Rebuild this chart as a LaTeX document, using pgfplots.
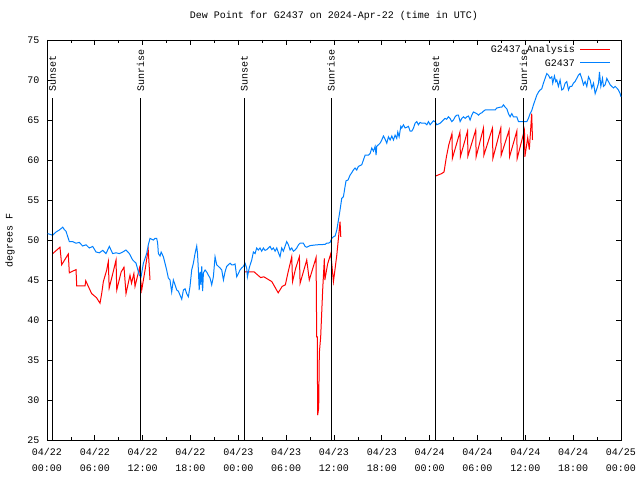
\documentclass[border=0pt]{standalone}
\usepackage{pgfplots}
\pgfplotsset{compat=1.18}
\usepackage{fontspec}
\setmainfont{Liberation Mono}
\definecolor{obsblue}{RGB}{0,128,255}
\begin{document}
\begin{tikzpicture}
\useasboundingbox (-47bp,-40bp) rectangle (593bp,440bp);
\begin{axis}[
  at={(0,0)}, anchor=south west, scale only axis,
  width=574bp, height=400bp,
  xmin=0, xmax=72, ymin=25, ymax=75,
  font=\fontsize{10bp}{16bp}\selectfont,
  /pgf/number format/assume math mode=true,
  axis line style={black, line width=0.8bp},
  tick align=inside,
  major tick length=5bp, minor tick length=3bp,
  tick style={black, line width=0.8bp},
  xtick={0,6,...,72},
  minor xtick={3,9,...,69},
  xticklabels={{04/22\\00:00},{04/22\\06:00},{04/22\\12:00},{04/22\\18:00},{04/23\\00:00},{04/23\\06:00},{04/23\\12:00},{04/23\\18:00},{04/24\\00:00},{04/24\\06:00},{04/24\\12:00},{04/24\\18:00},{04/25\\00:00}},
  xticklabel style={align=center, yshift=-5bp},
  ytick={25,30,...,75},
  yticklabel style={xshift=-4bp},
  ylabel={degrees F},
  ylabel style={at={(axis description cs:-0.0645,0.5)}, anchor=center},
  title={Dew Point for G2437 on 2024-Apr-22 (time in UTC)},
  title style={at={(axis description cs:0.5,1)}, anchor=base, yshift=16bp},
  unbounded coords=jump,
  clip=false,
]
% Analysis (red)
\addplot[color=red, line width=1bp] coordinates {
(0.72,48.3) (1.63,49.1) (1.84,46.9) (2.67,48.25) (2.8,45.9) (3.64,46.3) (3.73,44.25) (4.77,44.25) (4.86,44.9) (5.6,43.3) (6.2,42.8) (6.65,42.1) (6.86,43.3) (7.07,44.8) (7.49,46.25) (7.69,47.3) (7.8,44.0) (8.3,46.0) (8.66,47.5) (8.75,43.75) (9.3,46.0) (9.66,46.6) (9.91,43.3) (10.41,45.6) (10.6,44.6) (10.9,45.8) (11.04,44.2) (11.6,46.5) (11.88,43.75) (12.3,46.25) (12.55,47.9) (12.7,48.75) (12.92,45.0)
(13.0,nan)
(24.8,46.0) (26.0,46.0) (26.8,45.3) (27.2,45.4) (28.2,44.8) (29.0,43.4) (29.5,44.2) (29.9,44.4) (30.2,45.8) (30.7,47.9) (30.8,44.8) (31.2,46.5) (31.66,47.9) (31.75,44.6) (32.58,47.5) (32.9,45.0) (33.75,47.8) (33.83,37.9) (33.9,37.9) (33.95,28.1) (34.08,29.0) (34.16,35.9) (34.33,37.9) (34.58,43.75) (34.79,47.7) (34.85,45.0) (35.2,47.0) (35.6,48.3) (35.93,44.8) (36.35,48.1) (36.76,52.3) (36.85,50.4)
(37.0,nan)
(48.75,58.0) (49.5,58.3) (49.8,58.5) (50.1,60.4) (50.4,61.9) (50.8,63.3) (50.85,60.2) (51.8,63.5) (51.85,60.4) (52.75,63.6) (52.8,60.5) (53.78,63.75) (53.83,60.4) (54.75,64.0) (54.8,60.6) (55.88,64.0) (55.93,60.2) (56.92,64.0) (56.97,60.6) (57.97,63.75) (58.02,60.4) (58.93,63.6) (58.98,60.2) (59.89,63.75) (59.94,60.4) (60.3,62.8) (60.5,61.3) (60.8,65.8) (60.9,62.5)
};
% Observed (blue)
\addplot[color=obsblue, line width=1bp] coordinates {
(0.08,50.8) (0.71,50.6) (1.13,51.0) (1.55,51.25) (1.97,51.6) (2.17,51.3) (2.38,51.1) (2.8,49.8) (3.22,49.8) (3.64,49.6) (4.06,49.7) (4.47,49.25) (4.89,49.4) (5.31,49.0) (5.73,49.2) (6.15,48.5) (6.57,48.4) (6.99,48.7) (7.4,48.3) (7.82,49.2) (8.24,48.3) (8.66,48.4) (9.08,48.3) (9.5,48.5) (9.91,48.75) (10.33,48.3) (10.75,47.5) (11.17,47.1) (11.58,45.6) (11.8,45.4) (12.09,47.1) (12.5,48.3) (12.71,49.4) (12.92,50.2) (13.13,50.1) (13.34,50.0) (13.55,50.2) (13.76,50.2) (13.88,49.6) (13.97,48.3) (14.18,48.0) (14.32,48.5) (14.6,47.9) (14.8,47.1) (15.01,46.25) (15.22,45.25) (15.43,45.0) (15.64,43.5) (15.85,45.0) (16.06,44.4) (16.27,43.75) (16.48,43.6) (16.69,43.1) (16.9,42.6) (17.11,43.75) (17.32,43.9) (17.52,43.3) (17.73,42.9) (17.94,44.2) (18.15,46.25) (18.36,47.1) (18.57,48.3) (18.78,49.25) (18.88,48.3) (18.99,46.25) (19.09,43.75) (19.2,46.0) (19.3,44.4) (19.41,46.7) (19.52,43.6) (19.62,45.9) (19.83,46.25) (20.03,46.0) (20.24,45.6) (20.45,45.25) (20.66,44.4) (20.87,45.4) (21.08,47.9) (21.29,46.9) (21.5,46.7) (21.71,46.5) (21.92,46.25) (22.13,45.0) (22.33,46.0) (22.54,46.7) (22.75,46.9) (22.96,47.1) (23.17,46.9) (23.38,46.9) (23.59,47.0) (23.8,45.4) (24.0,45.8) (24.21,46.25) (24.42,46.5) (24.63,46.7) (24.84,47.1) (25.05,46.5) (25.14,45.4) (25.39,46.6) (25.68,47.5) (25.89,48.5) (26.1,48.3) (26.3,49.0) (26.51,48.75) (26.72,49.0) (26.93,48.6) (27.14,49.0) (27.35,48.7) (27.56,48.8) (27.77,49.0) (27.98,49.2) (28.19,48.8) (28.4,49.0) (28.61,48.6) (28.82,49.0) (29.03,48.4) (29.23,47.9) (29.44,49.0) (29.65,48.6) (29.86,49.2) (30.07,49.8) (30.28,49.4) (30.49,48.75) (30.7,49.0) (30.91,48.6) (31.12,48.75) (31.33,49.0) (31.54,49.4) (31.74,49.6) (32.16,49.6) (32.37,49.2) (32.58,49.1) (32.79,49.2) (33.0,49.3) (33.84,49.4) (34.88,49.45) (35.09,49.6) (35.3,49.6) (35.51,49.7) (35.72,50.2) (35.93,50.4) (36.14,50.5) (36.35,51.25) (36.56,52.5) (36.76,53.75) (36.97,55.2) (37.18,55.4) (37.39,56.7) (37.51,57.4) (37.76,57.5) (38.01,58.1) (38.22,58.4) (38.43,58.75) (38.64,59.0) (38.85,58.75) (39.06,59.2) (39.48,59.4) (39.69,60.0) (39.9,60.6) (40.32,60.6) (40.53,60.8) (40.74,61.5) (40.95,61.1) (41.16,61.7) (41.28,60.6) (41.36,61.7) (41.57,61.9) (41.78,62.1) (41.99,62.5) (42.2,63.0) (42.41,62.6) (42.62,62.1) (42.83,62.9) (43.04,62.5) (43.25,63.0) (43.46,62.5) (43.66,63.1) (43.87,62.7) (44.0,63.5) (44.17,62.9) (44.38,64.2) (44.5,64.0) (44.71,64.4) (44.92,64.0) (45.34,64.2) (45.55,63.6) (45.76,63.6) (45.97,64.0) (46.17,64.6) (46.38,64.8) (46.59,64.4) (46.8,64.7) (47.01,64.6) (47.43,64.6) (47.64,64.4) (47.85,64.8) (48.06,64.4) (48.47,64.9) (48.68,64.8) (48.89,64.4) (49.1,64.5) (49.31,64.6) (49.52,64.8) (49.73,65.0) (49.93,65.2) (50.14,65.1) (50.35,65.4) (50.56,65.2) (50.77,64.8) (50.98,65.0) (51.19,65.4) (51.4,65.6) (51.61,65.6) (51.82,64.8) (52.03,65.2) (52.24,65.4) (52.45,65.2) (52.66,65.4) (52.87,65.5) (53.07,65.0) (53.28,65.6) (53.49,66.0) (53.91,65.8) (54.12,65.6) (54.33,65.8) (54.54,65.9) (54.75,66.1) (54.96,66.25) (56.21,66.25) (56.42,66.5) (56.84,66.6) (57.05,66.6) (57.26,66.9) (57.47,66.6) (57.68,66.4) (57.88,65.8) (58.09,65.4) (58.3,65.8) (58.51,65.4) (58.93,65.4) (59.14,64.8) (59.77,64.8) (60.19,64.8) (60.39,65.2) (60.6,65.8) (60.81,66.2) (61.02,66.9) (61.23,67.5) (61.44,68.1) (61.65,68.5) (61.85,68.75) (62.06,68.9) (62.27,69.6) (62.48,70.2) (62.69,70.8) (62.9,70.6) (63.11,70.2) (63.32,70.4) (63.44,69.6) (63.65,70.5) (63.82,69.8) (63.94,70.0) (64.15,69.2) (64.36,70.0) (64.57,68.75) (64.78,68.9) (64.99,69.6) (65.2,69.8) (65.41,68.75) (65.61,69.2) (65.82,69.2) (66.03,69.6) (66.24,69.8) (66.45,70.2) (66.66,70.6) (66.87,70.8) (67.08,70.2) (67.29,69.4) (67.5,69.8) (67.71,69.2) (67.92,70.4) (68.13,70.0) (68.34,69.0) (68.55,69.6) (68.76,68.3) (68.97,68.9) (69.18,69.6) (69.3,71.0) (69.47,69.2) (69.68,70.2) (69.8,69.2) (70.01,69.4) (70.22,70.2) (70.43,69.8) (70.64,69.4) (70.85,69.2) (71.06,69.0) (71.26,69.2) (71.47,69.0) (71.68,68.75) (71.89,68.3) (72.0,67.9)
};
% Sunrise / sunset markers
\addplot[black, line width=1bp] coordinates {(0.71,25) (0.71,67.75)};
\addplot[black, line width=1bp] coordinates {(11.75,25) (11.75,67.75)};
\addplot[black, line width=1bp] coordinates {(24.76,25) (24.76,67.75)};
\addplot[black, line width=1bp] coordinates {(35.63,25) (35.63,67.75)};
\addplot[black, line width=1bp] coordinates {(48.77,25) (48.77,67.75)};
\addplot[black, line width=1bp] coordinates {(59.77,25) (59.77,67.75)};
\node[rotate=90, anchor=west, inner sep=0pt] at (axis cs:0.71,68.5) {Sunset};
\node[rotate=90, anchor=west, inner sep=0pt] at (axis cs:11.75,68.5) {Sunrise};
\node[rotate=90, anchor=west, inner sep=0pt] at (axis cs:24.76,68.5) {Sunset};
\node[rotate=90, anchor=west, inner sep=0pt] at (axis cs:35.63,68.5) {Sunrise};
\node[rotate=90, anchor=west, inner sep=0pt] at (axis cs:48.77,68.5) {Sunset};
\node[rotate=90, anchor=west, inner sep=0pt] at (axis cs:59.77,68.5) {Sunrise};
% Legend (key)
\node[anchor=east, inner sep=0pt] at (axis description cs:0.9199,0.975) {G2437 Analysis};
\node[anchor=east, inner sep=0pt] at (axis description cs:0.9199,0.9425) {G2437};
\draw[red, line width=1bp] (axis description cs:0.9286,0.975) -- (axis description cs:0.9808,0.975);
\draw[obsblue, line width=1bp] (axis description cs:0.9286,0.9425) -- (axis description cs:0.9808,0.9425);
\end{axis}
\end{tikzpicture}
\end{document}
